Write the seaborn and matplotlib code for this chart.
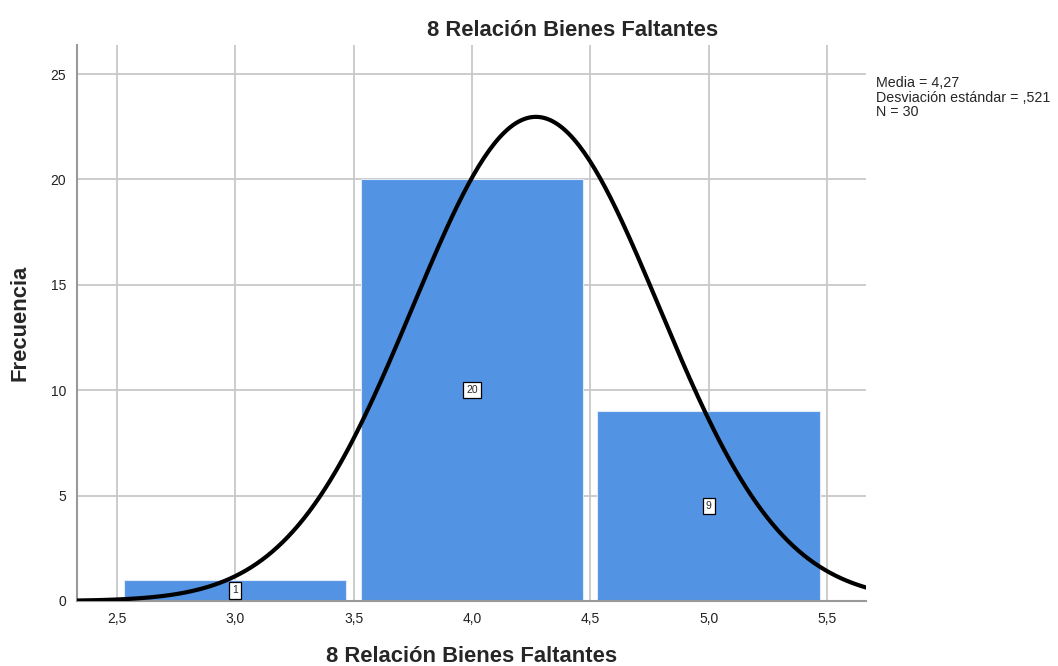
import matplotlib
matplotlib.use("Agg")
import numpy as np
import pandas as pd
import seaborn as sns
from matplotlib import pyplot as plt

# data
values = [3, 4, 5]
counts = [1, 20, 9]
mean = 4.27
std = 0.521
n = 30
x_ticks = [2.5, 3.0, 3.5, 4.0, 4.5, 5.0, 5.5]
x_tick_labels = ["2,5", "3,0", "3,5", "4,0", "4,5", "5,0", "5,5"]
y_ticks = [0, 5, 10, 15, 20, 25]

sns.set_style("white")
plt.rcParams["font.family"] = ["Liberation Sans", "DejaVu Sans"]

fig = plt.figure(figsize=(10.58, 6.66), dpi=100)
ax = fig.add_axes([0.0728, 0.0976, 0.7457, 0.8348])

for xt in x_ticks:
    ax.axvline(xt, color="#c8c8c8", lw=1.3, zorder=0)
for yt in y_ticks:
    ax.axhline(yt, color="#c8c8c8", lw=1.3, zorder=0)

df = pd.DataFrame({"value": values, "count": counts})
sns.histplot(data=df, x="value", weights="count", discrete=True, shrink=0.94,
             color="#5393e3", alpha=1, edgecolor="#dfe9f7", linewidth=0.8,
             ax=ax, zorder=2)

# normal curve from the reported mean / sd / N (bin width 1)
xs = np.linspace(2.33, 5.67, 300)
ys = n * 1.0 / (std * np.sqrt(2 * np.pi)) * np.exp(-0.5 * ((xs - mean) / std) ** 2)
sns.lineplot(x=xs, y=ys, color="black", lw=3, ax=ax, zorder=4)

for v, c in zip(values, counts):
    ax.text(v, c / 2, str(c), ha="center", va="center", fontsize=7.5, zorder=5,
            bbox=dict(boxstyle="square,pad=0.3", fc="white", ec="black", lw=0.9))

ax.set_xlim(2.332, 5.664)
ax.set_ylim(0, 26.38)
ax.set_xticks(x_ticks)
ax.set_xticklabels(x_tick_labels)
ax.set_yticks(y_ticks)
ax.tick_params(length=0, labelsize=10, colors="#222222", pad=8)
for side in ["top", "right"]:
    ax.spines[side].set_visible(False)
for side in ["left", "bottom"]:
    ax.spines[side].set_color("#999999")
    ax.spines[side].set_linewidth(1.5)

# SPSS centres the title over the chart plus the stats column
fig.text(573 / 1058, 1 - 30 / 666, "8 Relación Bienes Faltantes",
         fontsize=15.8, fontweight="bold", ha="center", va="center")
ax.set_xlabel("8 Relación Bienes Faltantes", fontsize=15.8, fontweight="bold", labelpad=14)
ax.set_ylabel("Frecuencia", fontsize=15.8, fontweight="bold", labelpad=14)

fig.text(876 / 1058, 1 - 76 / 666,
         "Media = 4,27\nDesviación estándar = ,521\nN = 30",
         fontsize=10.3, va="top", ha="left", linespacing=1.05)

fig.savefig("out.png", dpi=100, facecolor="white")
